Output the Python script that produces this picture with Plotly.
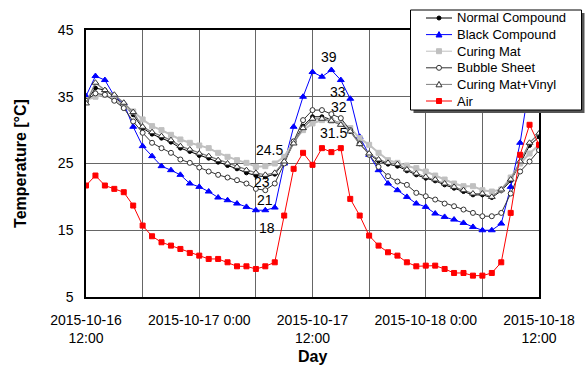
import pandas as pd
import plotly.graph_objects as go

# Hourly readings, 2015-10-16 12:00 to 2015-10-18 12:00
times = pd.date_range("2015-10-16 12:00", "2015-10-18 12:00", freq="h")

normal_compound = [34.2, 36.3, 36.0, 35.0, 33.8, 32.3, 30.3, 29.4, 28.8, 28.2, 27.3, 26.8, 26.2,
                   25.8, 25.2, 24.7, 24.2, 23.6, 23.2, 23.0, 23.4, 25.2, 28.2, 30.6, 32.0, 32.0,
                   31.6, 31.0, 29.8, 28.0, 26.4, 25.4, 24.9, 24.6, 23.9, 23.3, 22.8, 22.4, 21.8,
                   21.3, 20.8, 20.3, 20.3, 19.9, 20.9, 22.4, 25.0, 27.7, 29.0]
black_compound = [35.1, 38.1, 37.5, 35.1, 34.0, 30.5, 27.6, 26.1, 24.6, 24.0, 23.3, 22.0, 21.5,
                  20.8, 19.9, 19.5, 19.0, 18.5, 18.0, 18.0, 18.4, 25.0, 30.5, 35.0, 38.7, 38.0,
                  39.0, 37.5, 34.7, 29.0, 26.3, 24.0, 22.0, 21.0, 20.0, 19.0, 18.5, 17.5, 17.0,
                  16.6, 16.1, 15.5, 15.0, 15.0, 16.0, 21.5, 28.1, 37.0, 36.0]
curing_mat = [34.5, 35.0, 35.3, 34.6, 33.6, 32.8, 31.6, 30.6, 30.0, 29.3, 28.6, 28.1, 27.7,
              27.3, 26.6, 26.0, 25.5, 25.1, 24.5, 24.6, 25.0, 26.0, 28.3, 30.0, 31.0, 31.5,
              31.4, 31.0, 30.3, 28.8, 27.8, 26.6, 25.5, 25.1, 24.7, 24.3, 23.8, 23.2, 22.6,
              22.0, 21.6, 21.6, 21.0, 20.8, 21.1, 22.9, 25.0, 26.5, 27.8]
bubble_sheet = [34.4, 35.5, 35.3, 34.4, 33.3, 31.3, 29.6, 28.1, 27.3, 26.6, 25.6, 25.1, 24.4,
                23.8, 23.3, 22.9, 22.5, 22.0, 21.2, 21.0, 22.0, 25.0, 28.3, 31.5, 33.0, 33.0,
                32.4, 31.8, 30.0, 28.0, 26.3, 24.5, 23.1, 22.3, 21.8, 20.6, 20.1, 19.6, 19.0,
                18.6, 18.1, 17.6, 17.1, 17.1, 17.6, 20.5, 23.8, 25.3, 27.0]
curing_mat_vinyl = [34.0, 37.1, 36.0, 35.3, 34.1, 32.7, 30.5, 29.7, 29.1, 28.5, 27.6, 27.1, 26.5,
                    26.1, 25.5, 25.0, 24.5, 24.0, 23.6, 23.3, 23.6, 25.3, 28.0, 30.3, 31.7, 31.7,
                    31.4, 30.8, 29.8, 27.9, 26.5, 25.6, 25.1, 24.9, 24.1, 23.5, 23.0, 22.6, 22.0,
                    21.5, 21.0, 20.5, 20.5, 20.0, 21.1, 22.6, 25.3, 28.1, 29.5]
air = [21.7, 23.2, 21.7, 21.2, 20.7, 18.7, 15.7, 14.1, 13.2, 12.7, 12.2, 11.6, 11.2,
       10.7, 10.7, 10.2, 9.6, 9.6, 9.2, 9.6, 10.2, 17.2, 24.2, 26.6, 24.8, 27.3,
       26.7, 27.3, 19.7, 17.2, 14.2, 12.7, 11.7, 11.2, 10.2, 9.6, 9.7, 9.7, 9.2,
       8.6, 8.6, 8.2, 8.2, 8.6, 10.2, 17.6, 26.3, 30.8, 27.8]

series_names = ["Normal Compound", "Black Compound", "Curing Mat", "Bubble Sheet",
                "Curing Mat+Vinyl", "Air"]

# Axis ticks: gridline every 6 h, labels every 12 h
tick_times = pd.date_range("2015-10-16 12:00", "2015-10-18 12:00", freq="6h")
tick_labels = ["2015-10-16<br>12:00", "", "2015-10-17 0:00", "", "2015-10-17<br>12:00",
               "", "2015-10-18 0:00", "", "2015-10-18<br>12:00"]
y_ticks = [5, 15, 25, 35, 45]

# Value callouts: (text, hours after start, temperature position)
callouts = [("39", 25.8, 41.0), ("33", 26.7, 35.7), ("32", 26.8, 33.4), ("31.5", 26.2, 29.5),
            ("24.5", 19.4, 27.0), ("23", 18.7, 22.2), ("21", 19.0, 19.5), ("18", 19.2, 15.3)]

FONT = "Liberation Sans, Arial, sans-serif"

# Styles per series: line colour/width, marker shape, marker fill, marker outline, marker size
styles = [
    dict(lc="black", lw=1, sym="circle", fill="black", edge="black", size=4),
    dict(lc="#0000FF", lw=1, sym="triangle-up", fill="#0000FF", edge="#0000FF", size=6),
    dict(lc="#C0C0C0", lw=2, sym="square", fill="#C0C0C0", edge="#C0C0C0", size=5),
    dict(lc="#333333", lw=1, sym="circle", fill="white", edge="#333333", size=5),
    dict(lc="#808080", lw=1.3, sym="triangle-up", fill="white", edge="#333333", size=6),
    dict(lc="#FF0000", lw=1, sym="square", fill="#FF0000", edge="#FF0000", size=5),
]
values = [normal_compound, black_compound, curing_mat, bubble_sheet, curing_mat_vinyl, air]

fig = go.Figure()
for name, vals, st in zip(series_names, values, styles):
    fig.add_trace(go.Scatter(
        x=times, y=vals, name=name, mode="lines+markers", showlegend=False,
        line=dict(color=st["lc"], width=st["lw"]),
        marker=dict(symbol=st["sym"], size=st["size"], color=st["fill"],
                    line=dict(color=st["edge"], width=1))))

t0 = times[0]
for text, hrs, yv in callouts:
    fig.add_annotation(x=t0 + pd.Timedelta(hours=hrs), y=yv, text=text, showarrow=False,
                       font=dict(family=FONT, size=14, color="black"),
                       xanchor="center", yanchor="middle")

# Legend box (drawn in paper space, pixel helpers relative to the plot area)
PL, PR, PT, PB = 86, 539, 30, 297
def px_x(v):
    return (v - PL) / (PR - PL)
def px_y(v):
    return (PB - v) / (PB - PT)

def rect(x0, y0, x1, y1, fill, edge=None, w=0):
    fig.add_shape(type="rect", xref="paper", yref="paper", layer="above",
                  x0=px_x(x0), x1=px_x(x1), y0=px_y(y1), y1=px_y(y0),
                  fillcolor=fill, line=dict(color=edge or fill, width=w))

rect(413.5, 13, 584.5, 113, "#555555")
rect(410.5, 10, 581.5, 110, "white", "black", 1)

row_y = [18, 34.6, 51.2, 67.8, 84.4, 101]
for ry, name, st in zip(row_y, series_names, styles):
    fig.add_shape(type="line", xref="paper", yref="paper", layer="above",
                  x0=px_x(426), x1=px_x(452), y0=px_y(ry), y1=px_y(ry),
                  line=dict(color=st["lc"], width=1))
    cx, r = 439, st["size"] / 2
    if st["sym"] == "circle":
        fig.add_shape(type="circle", xref="paper", yref="paper", layer="above",
                      x0=px_x(cx - r), x1=px_x(cx + r), y0=px_y(ry + r), y1=px_y(ry - r),
                      fillcolor=st["fill"], line=dict(color=st["edge"], width=1))
    elif st["sym"] == "square":
        rect(cx - r, ry - r, cx + r, ry + r, st["fill"], st["edge"], 1)
    else:
        path = "M {:.5f},{:.5f} L {:.5f},{:.5f} L {:.5f},{:.5f} Z".format(
            px_x(cx - r), px_y(ry + r * 0.8), px_x(cx + r), px_y(ry + r * 0.8),
            px_x(cx), px_y(ry - r))
        fig.add_shape(type="path", xref="paper", yref="paper", layer="above", path=path,
                      fillcolor=st["fill"], line=dict(color=st["edge"], width=1))
    fig.add_annotation(xref="paper", yref="paper", x=px_x(455), y=px_y(ry), text=name,
                       showarrow=False, xanchor="left", yanchor="middle",
                       font=dict(family=FONT, size=13, color="black"))

# Axis title for the time axis, placed below the two-line tick labels
fig.add_annotation(xref="paper", yref="paper", x=0.5, y=px_y(356), text="<b>Day</b>",
                   showarrow=False, xanchor="center", yanchor="middle",
                   font=dict(family=FONT, size=16, color="black"))

fig.update_layout(
    width=588, height=366,
    margin=dict(l=PL, r=588 - PR, t=PT, b=366 - PB),
    paper_bgcolor="white", plot_bgcolor="white",
    font=dict(family=FONT, size=14, color="black"),
    showlegend=False,
    xaxis=dict(range=[times[0], times[-1]], tickmode="array", tickvals=tick_times,
               ticktext=tick_labels, showgrid=True, gridcolor="#666666", gridwidth=1,
               showline=True, linecolor="black", linewidth=1.5, mirror=True,
               ticks="", ticklabelstandoff=9, zeroline=False, automargin=False),
    yaxis=dict(range=[5, 45], tickmode="array", tickvals=y_ticks,
               showgrid=True, gridcolor="#666666", gridwidth=1,
               showline=True, linecolor="black", linewidth=1.5, mirror=True,
               ticks="", ticklabelstandoff=8, zeroline=False, automargin=False,
               title=dict(text="<b>Temperature [°C]</b>", font=dict(family=FONT, size=16),
                          standoff=27)),
)

fig.write_html("out.html")
